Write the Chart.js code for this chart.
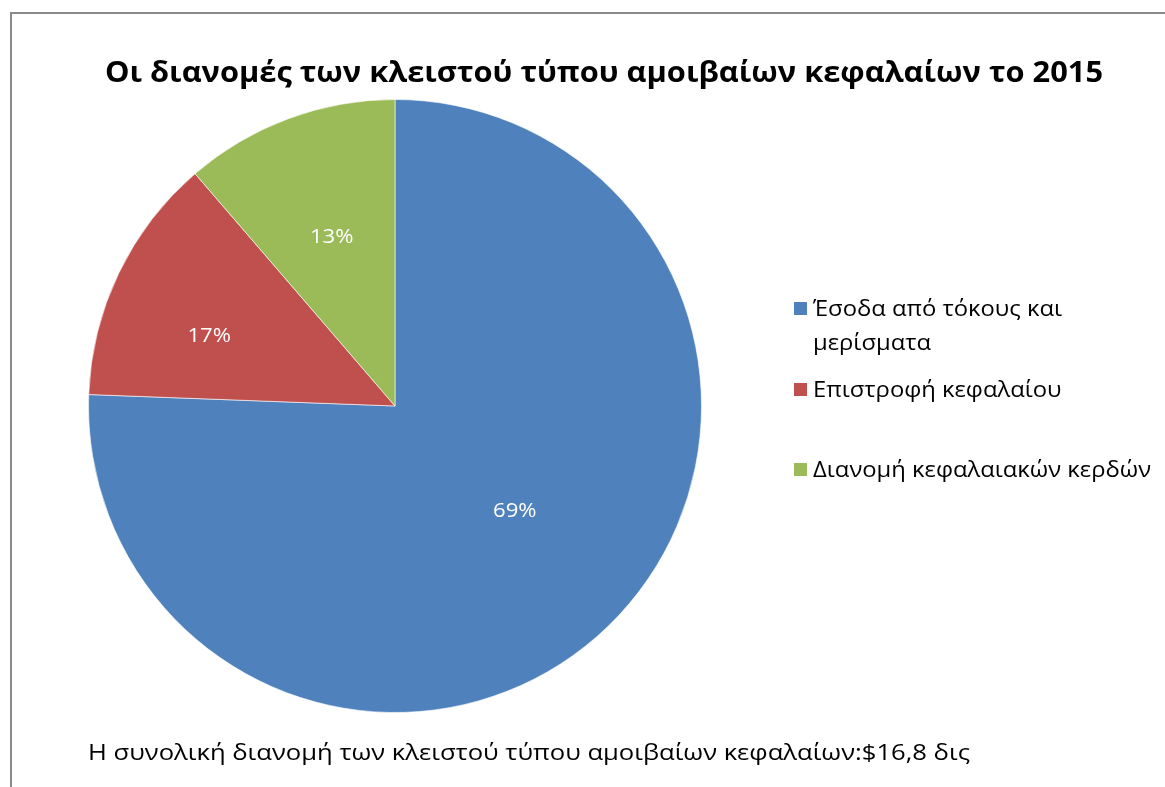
<!DOCTYPE html>
<html><head><meta charset="utf-8">
<script src="https://cdn.jsdelivr.net/npm/chart.js@4.4.0/dist/chart.umd.min.js"></script>
<style>html,body{margin:0;padding:0;background:#fff;}#wrap{width:1165px;height:787px;position:relative;}</style>
</head><body><div id="wrap"><canvas id="c" width="1165" height="787"></canvas></div>
<script>
const chartTitle = "Οι διανομές των κλειστού τύπου αμοιβαίων κεφαλαίων το 2015";
const categories = ["Έσοδα από τόκους και μερίσματα", "Επιστροφή κεφαλαίου", "Διανομή κεφαλαιακών κερδών"];
const values = [12.7, 2.2, 1.9]; // δις $
const percentLabels = ["69%", "17%", "13%"];
const footnote = "Η συνολική διανομή των κλειστού τύπου αμοιβαίων κεφαλαίων:$16,8 δις";
const colors = ["#4F81BD", "#C0504D", "#9BBB59"];

const FONT = "'Open Sans', 'Noto Sans', 'DejaVu Sans', sans-serif";
const CAP = 0.714;

// draw text with given cap height, horizontally scaled to a target width
function drawFit(ctx, text, x, y, weight, capH, targetW, align) {
  const size = capH / CAP;
  ctx.font = weight + ' ' + size + 'px ' + FONT;
  const w = ctx.measureText(text).width;
  const sx = targetW / w;
  ctx.save();
  ctx.translate(x, y);
  ctx.scale(sx, 1);
  ctx.textAlign = align || 'left';
  ctx.fillText(text, 0, 0);
  ctx.restore();
  return sx;
}

const decor = {
  id: 'decor',
  beforeDraw(chart) {
    const ctx = chart.ctx;
    ctx.save();
    ctx.fillStyle = '#fff';
    ctx.fillRect(0, 0, chart.width, chart.height);
    ctx.strokeStyle = '#8a8a8a';
    ctx.lineWidth = 2;
    ctx.beginPath();
    ctx.moveTo(11, 787); ctx.lineTo(11, 13); ctx.lineTo(1165, 13);
    ctx.stroke();
    ctx.restore();
  },
  afterDraw(chart) {
    const ctx = chart.ctx;
    ctx.save();
    ctx.textBaseline = 'alphabetic';
    // title
    ctx.fillStyle = '#000';
    drawFit(ctx, chartTitle, 105, 82, 'bold', 20.5, 998, 'left');

    // data labels
    const meta = chart.getDatasetMeta(0);
    const fracs = [0.517, 0.649, 0.594];
    const angOff = [-5.2, -4.8, 0];
    ctx.fillStyle = '#fff';
    meta.data.forEach((arc, i) => {
      const p = arc.getProps(['x','y','startAngle','endAngle','outerRadius'], true);
      const mid = (p.startAngle + p.endAngle) / 2 + angOff[i] * Math.PI / 180;
      const r = p.outerRadius * fracs[i];
      const cx = p.x + Math.cos(mid) * r, cy = p.y + Math.sin(mid) * r;
      drawFit(ctx, percentLabels[i], cx, cy + 7.2, 'normal', 14.5, 43.5, 'center');
    });

    // legend
    const legX = 813;
    const capL = 15;
    const sizeL = capL / CAP;
    ctx.font = 'normal ' + sizeL + 'px ' + FONT;
    const sxL = 338 / ctx.measureText(categories[2]).width;
    const maxW = 345;
    const itemBase = [316, 397, 477];
    categories.forEach((cat, i) => {
      const words = cat.split(' ');
      const lines = [];
      let cur = '';
      words.forEach(w => {
        const t = cur ? cur + ' ' + w : w;
        if (ctx.measureText(t).width * sxL > maxW && cur) { lines.push(cur); cur = w; }
        else cur = t;
      });
      if (cur) lines.push(cur);
      ctx.fillStyle = colors[i];
      ctx.fillRect(794, itemBase[i] - 14, 13, 13);
      ctx.fillStyle = '#000';
      lines.forEach((ln, j) => {
        ctx.save();
        ctx.translate(legX, itemBase[i] + j * 34);
        ctx.scale(sxL, 1);
        ctx.textAlign = 'left';
        ctx.fillText(ln, 0, 0);
        ctx.restore();
      });
    });

    // footnote
    ctx.fillStyle = '#000';
    drawFit(ctx, footnote, 88, 760, 'normal', 15, 882, 'left');
    ctx.restore();
  }
};

new Chart(document.getElementById('c'), {
  type: 'pie',
  data: {
    labels: categories,
    datasets: [{
      data: values,
      backgroundColor: colors,
      borderColor: 'rgba(255,255,255,0.6)',
      borderWidth: 1
    }]
  },
  options: {
    responsive: false,
    animation: false,
    devicePixelRatio: 1,
    layout: { padding: { left: 88, top: 99, right: 463, bottom: 74 } },
    plugins: {
      legend: { display: false },
      title: { display: false },
      tooltip: { enabled: false }
    }
  },
  plugins: [decor]
});
</script>
</body></html>
